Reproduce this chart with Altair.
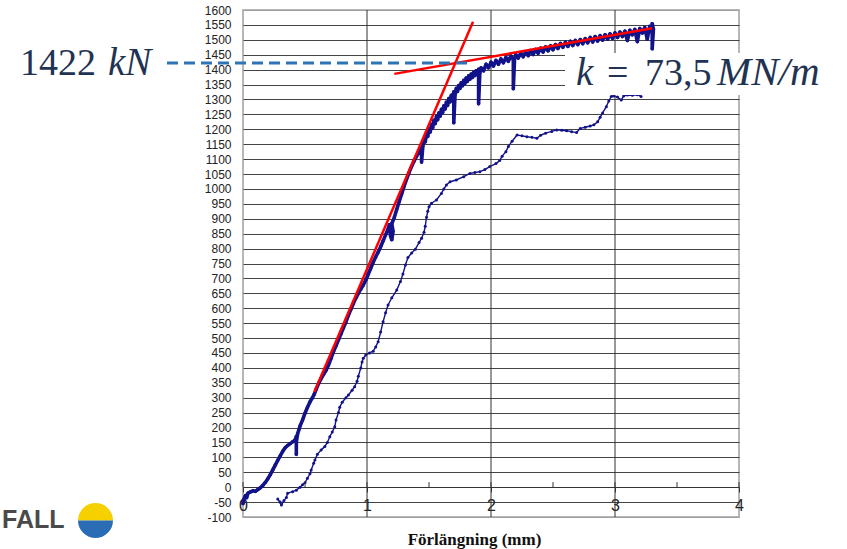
import altair as alt
import pandas as pd

# ---------------------------------------------------------------
# Measured data: elongation (mm) vs. force (kN)
# ---------------------------------------------------------------
# First loading, elastic part
load1_elastic = [
    (0.00, -55), (0.01, -38), (0.00, -48), (0.02, -28), (0.03, -35), (0.04, -20),
    (0.06, -16), (0.08, -12), (0.10, -14), (0.12, -8), (0.14, -2), (0.16, 6),
    (0.18, 16), (0.20, 28), (0.22, 42), (0.24, 58), (0.26, 74), (0.28, 90),
    (0.30, 105), (0.32, 120), (0.34, 132), (0.36, 140), (0.38, 146), (0.40, 152),
    (0.42, 158), (0.43, 170), (0.43, 110), (0.43, 150), (0.44, 178), (0.45, 192),
    (0.46, 205), (0.48, 225), (0.50, 248), (0.52, 268), (0.54, 286), (0.56, 300),
    (0.575, 312), (0.59, 328), (0.61, 348), (0.63, 364), (0.65, 378), (0.67, 392),
    (0.69, 410), (0.71, 432), (0.73, 455), (0.75, 474), (0.77, 494), (0.79, 514),
    (0.81, 534), (0.83, 554), (0.85, 576), (0.87, 596), (0.89, 616), (0.91, 634),
    (0.93, 650), (0.95, 664), (0.97, 678), (0.99, 694), (1.01, 714), (1.03, 734),
    (1.05, 754), (1.07, 772), (1.09, 788), (1.11, 806), (1.13, 826), (1.15, 846),
    (1.17, 866), (1.18, 880), (1.19, 842), (1.20, 830), (1.21, 858), (1.20, 884),
    (1.22, 904), (1.24, 932), (1.26, 958), (1.28, 984), (1.30, 1010), (1.32, 1034),
    (1.34, 1056), (1.36, 1076), (1.38, 1094), (1.40, 1110), (1.42, 1124), (1.44, 1136),
    (1.44, 1090), (1.45, 1142),
]
# First loading, yielding knee with unloading spikes
load1_knee = [
    (1.46, 1166), (1.47, 1158), (1.48, 1186), (1.49, 1176), (1.50, 1202), (1.51, 1191),
    (1.52, 1216), (1.53, 1205), (1.54, 1230), (1.55, 1219), (1.56, 1243), (1.57, 1232),
    (1.58, 1255), (1.59, 1244), (1.60, 1267), (1.61, 1256), (1.62, 1279), (1.63, 1268),
    (1.64, 1291), (1.65, 1280), (1.66, 1303), (1.67, 1292), (1.68, 1314), (1.69, 1303),
    (1.70, 1326), (1.70, 1222), (1.71, 1316), (1.72, 1337), (1.73, 1327), (1.74, 1347),
    (1.75, 1337), (1.76, 1356), (1.77, 1346), (1.78, 1364), (1.79, 1354), (1.80, 1372),
    (1.81, 1361), (1.82, 1379), (1.83, 1368), (1.84, 1385), (1.85, 1374), (1.86, 1391),
    (1.87, 1380), (1.88, 1396), (1.89, 1385), (1.90, 1401), (1.90, 1286), (1.91, 1390),
    (1.92, 1406), (1.94, 1396),
]
# First loading, hardening plateau
load1_plateau = [
    (1.96, 1418), (1.98, 1406), (2.00, 1425), (2.02, 1412), (2.04, 1431), (2.06, 1418),
    (2.08, 1436), (2.10, 1423), (2.12, 1441), (2.14, 1428), (2.16, 1446), (2.18, 1433),
    (2.18, 1336), (2.19, 1436), (2.20, 1451), (2.22, 1439), (2.24, 1456), (2.26, 1443),
    (2.28, 1460), (2.30, 1447), (2.32, 1464), (2.34, 1451), (2.36, 1468), (2.38, 1455),
    (2.40, 1472), (2.42, 1459), (2.44, 1476), (2.46, 1463), (2.48, 1480), (2.50, 1467),
    (2.52, 1484), (2.54, 1471), (2.56, 1488), (2.58, 1475), (2.60, 1492), (2.62, 1478),
    (2.64, 1495), (2.66, 1481), (2.68, 1498), (2.70, 1484), (2.72, 1501), (2.74, 1487),
    (2.76, 1504), (2.78, 1490), (2.80, 1508), (2.82, 1493), (2.84, 1511), (2.86, 1496),
    (2.88, 1514), (2.90, 1499), (2.92, 1517), (2.94, 1502), (2.96, 1520), (2.98, 1505),
    (3.00, 1523), (3.02, 1508), (3.04, 1526), (3.06, 1511), (3.08, 1529), (3.10, 1498),
    (3.12, 1532), (3.14, 1517), (3.16, 1535), (3.18, 1494), (3.20, 1538), (3.22, 1523),
    (3.24, 1541), (3.26, 1502), (3.28, 1545), (3.29, 1530), (3.30, 1549), (3.30, 1470),
    (3.31, 1536), (3.30, 1554),
]
# Second loading
load2 = [
    (0.30, -50), (0.28, -40), (0.31, -60), (0.33, -45), (0.35, -35), (0.36, -20),
    (0.40, -15), (0.43, -10), (0.46, 0), (0.48, 8), (0.50, 15), (0.52, 30),
    (0.54, 45), (0.55, 58), (0.57, 80), (0.58, 91), (0.60, 110), (0.63, 125),
    (0.66, 136), (0.68, 150), (0.70, 169), (0.72, 185), (0.74, 203), (0.75, 225),
    (0.77, 250), (0.78, 268), (0.80, 285), (0.83, 300), (0.85, 309), (0.88, 325),
    (0.90, 337), (0.92, 355), (0.93, 372), (0.95, 400), (0.96, 420), (0.97, 432),
    (0.99, 443), (1.02, 450), (1.05, 456), (1.07, 470), (1.09, 488), (1.11, 520),
    (1.13, 555), (1.15, 585), (1.17, 611), (1.20, 635), (1.24, 661), (1.27, 690),
    (1.29, 715), (1.31, 745), (1.33, 770), (1.36, 785), (1.39, 798), (1.42, 820),
    (1.44, 835), (1.46, 855), (1.47, 875), (1.48, 905), (1.49, 925), (1.50, 940),
    (1.52, 952), (1.56, 963), (1.60, 985), (1.62, 1000), (1.64, 1013), (1.67, 1024),
    (1.72, 1030), (1.78, 1041), (1.83, 1052), (1.87, 1055), (1.91, 1058), (1.95, 1065),
    (1.99, 1075), (2.04, 1085), (2.07, 1095), (2.09, 1110), (2.12, 1125), (2.14, 1142),
    (2.17, 1160), (2.21, 1181), (2.25, 1178), (2.29, 1175), (2.33, 1173), (2.37, 1170),
    (2.40, 1180), (2.44, 1187), (2.49, 1193), (2.53, 1198), (2.57, 1197), (2.61, 1195),
    (2.65, 1192), (2.69, 1189), (2.72, 1203), (2.76, 1207), (2.80, 1211), (2.83, 1215),
    (2.86, 1225), (2.88, 1240), (2.90, 1255), (2.93, 1276), (2.95, 1295), (2.97, 1310),
    (2.99, 1312), (3.02, 1308), (3.05, 1298), (3.07, 1312), (3.10, 1315), (3.14, 1314),
    (3.18, 1316), (3.21, 1310),
]

# Evaluated characteristics
YIELD_KN = 1422            # force at intersection of the two tangents
STIFFNESS = 73.5           # post-yield stiffness, MN/m (= kN/mm)
YIELD_MM = 1.712           # elongation at the intersection
ELASTIC_SLOPE = 970        # kN/mm, elastic tangent
elastic_span = [0.575, 1.855]
plastic_span = [1.22, 3.30]
dash_span = [-0.613, 1.83]

x_ticks = [0, 1, 2, 3, 4]
x_minor = [0.5, 1.5, 2.5, 3.5]
y_ticks = list(range(-100, 1601, 50))

NAVY = "#12128a"
TEXT = "#1f3352"


def frame(points):
    return pd.DataFrame({
        "x": [p[0] for p in points],
        "y": [p[1] for p in points],
        "i": list(range(len(points))),
    })


curve1 = frame(load1_elastic + load1_knee + load1_plateau)
curve2 = frame(load2)

tangents = pd.DataFrame({
    "seg": ["e", "e", "p", "p"],
    "x": elastic_span + plastic_span,
    "y": [YIELD_KN + ELASTIC_SLOPE * (x - YIELD_MM) for x in elastic_span]
    + [YIELD_KN + STIFFNESS * (x - YIELD_MM) for x in plastic_span],
})

xs = alt.Scale(domain=[0, 4], nice=False, zero=False)
ys = alt.Scale(domain=[-100, 1600], nice=False, zero=False)

x_axis = alt.Axis(
    values=x_ticks, grid=False, domain=True, domainColor="#333", domainWidth=1,
    ticks=True, tickSize=5, tickColor="#333", labelFlush=False,
    labelFont="Liberation Sans", labelFontSize=16, labelColor="#222", labelPadding=5,
    offset=-30, title="Förlängning (mm)", titleFont="Liberation Serif",
    titleFontSize=17, titleFontWeight="bold", titleColor="#111",
    titleBaseline="alphabetic", titleY=57, titleX=231,
)
y_axis = alt.Axis(
    values=y_ticks, grid=True,
    gridColor=alt.condition("datum.value == 1600 || datum.value == -100",
                            alt.value("#a0a0a0"), alt.value("#444444")),
    gridWidth=1, domain=False, ticks=False, labelPadding=12,
    labelFont="Liberation Sans", labelFontSize=12, labelColor="#222",
    labelExpr="toString(datum.value)", title="",
)


def X(field="x:Q"):
    return alt.X(field, scale=xs, axis=x_axis)


def Y(field="y:Q"):
    return alt.Y(field, scale=ys, axis=y_axis)


line2 = alt.Chart(curve2).mark_line(
    color=NAVY, strokeWidth=1.4, strokeJoin="round",
    point=alt.OverlayMarkDef(color=NAVY, size=9, filled=True),
).encode(x=X(), y=Y(), order="i:Q")

line1 = alt.Chart(curve1).mark_line(
    color=NAVY, strokeWidth=3.6, strokeJoin="round", strokeCap="round",
    point=alt.OverlayMarkDef(color=NAVY, size=12, filled=True),
).encode(x=X(), y=Y(), order="i:Q")

vgrid = alt.Chart(pd.DataFrame({"x": x_ticks[1:4]})).mark_rule(
    color="#333", strokeWidth=1
).encode(x=X())

ticks_up = alt.Chart(pd.DataFrame({"x": x_ticks + x_minor, "y": 0, "y2": 17})).mark_rule(
    color="#333", strokeWidth=1
).encode(x=X(), y=Y(), y2="y2:Q")

red = alt.Chart(tangents).mark_line(color="#ff0000", strokeWidth=2.5).encode(
    x=X(), y=Y(), detail="seg:N"
)

dash = alt.Chart(pd.DataFrame({"x": [dash_span[0]], "x2": [dash_span[1]], "y": [YIELD_KN]})).mark_rule(
    color="#2e75b6", strokeWidth=3, strokeDash=[11, 6], clip=False
).encode(x=X(), x2="x2:Q", y=Y())

box = alt.Chart(pd.DataFrame({"t": [0]})).mark_rect(color="white", opacity=1).encode(
    x=alt.value(322), x2=alt.value(604), y=alt.value(43), y2=alt.value(85)
)


def label(text, x, y, italic=False, size=38, dy=0, color=TEXT,
          font="Liberation Serif", weight="normal"):
    kw = dict(font=font, fontSize=size, align="left", baseline="alphabetic",
              color=color, fontWeight=weight, dy=dy)
    if italic:
        kw["fontStyle"] = "italic"
    return alt.Chart(pd.DataFrame({"t": [text]})).mark_text(**kw).encode(
        text="t:N", x=alt.value(x), y=alt.value(y)
    )


# pixel row of the yield force on the force axis
yield_px = (1600 - YIELD_KN) / 1700 * 507

yield_val = label(str(YIELD_KN), -223, yield_px, dy=12)
yield_unit = label("kN", -135, yield_px, italic=True, dy=12, size=39)

k_sym = label("k", 333, 75, italic=True, size=39)
k_eq = label("=", 364, 75)
k_val = label(f"{STIFFNESS:.1f}".replace(".", ","), 402, 75)
k_unit = label("MN/m", 474, 75, italic=True, size=41)

logo_text = label("FALL", -241, 518, size=25, color="#4a4a4a",
                  font="Liberation Sans", weight="bold")

logo_top = alt.Chart(pd.DataFrame({"t": [0]})).mark_arc(
    radius=17.5, theta=4.7124, theta2=7.8540, color="#f7d000"
).encode(x=alt.value(-147.5), y=alt.value(510.5))
logo_bottom = alt.Chart(pd.DataFrame({"t": [0]})).mark_arc(
    radius=17.5, theta=1.5708, theta2=4.7124, color="#2a6db5"
).encode(x=alt.value(-147.5), y=alt.value(510.5))

chart = alt.layer(
    line2, vgrid, ticks_up, line1, red, dash, box,
    yield_val, yield_unit, k_sym, k_eq, k_val, k_unit,
    logo_text, logo_top, logo_bottom,
).properties(
    width=496, height=507,
    autosize=alt.AutoSizeParams(type="none"),
    padding={"left": 243, "top": 10, "right": 108, "bottom": 32},
    background="white",
).configure_view(stroke="#a0a0a0", strokeWidth=1.5)

chart.save("out.html", embed_options={"renderer": "svg", "actions": False})
